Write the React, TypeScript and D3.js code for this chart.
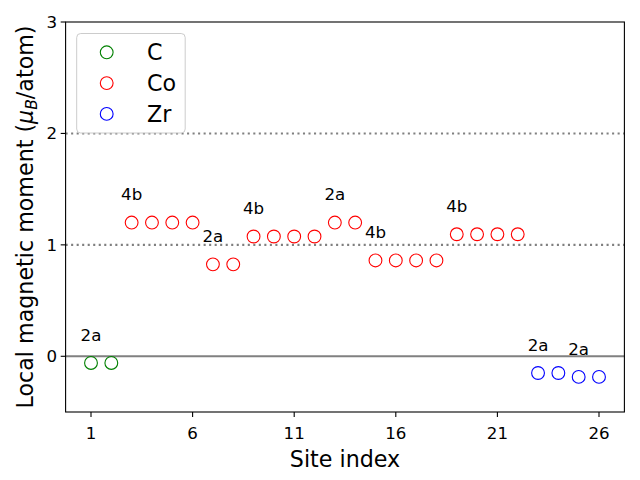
import React from "react";
import * as d3 from "d3";

const cSites = [1, 2];
const cValues = [-0.06, -0.06];
const coSites = [3, 4, 5, 6, 7, 8, 9, 10, 11, 12, 13, 14, 15, 16, 17, 18, 19, 20, 21, 22];
const coValues = [1.2, 1.2, 1.2, 1.2, 0.825, 0.825, 1.075, 1.075, 1.075, 1.075, 1.2, 1.2, 0.86, 0.86, 0.86, 0.86, 1.095, 1.095, 1.095, 1.095];
const zrSites = [23, 24, 25, 26];
const zrValues = [-0.15, -0.15, -0.185, -0.185];
const labelSites = [1, 3, 7, 9, 13, 15, 19, 23, 25];
const labelValues = [-0.06, 1.2, 0.825, 1.075, 1.2, 0.86, 1.095, -0.15, -0.185];
const labelTexts = ["2a", "4b", "2a", "4b", "2a", "4b", "4b", "2a", "2a"];
const xTicks = [1, 6, 11, 16, 21, 26];
const yTicks = [0, 1, 2, 3];
const seriesNames = ["C", "Co", "Zr"];
const seriesColors = ["green", "red", "blue"];

const W = 640, H = 480;
const L = 65.6, R = 624.4, T = 22, B = 412;
const font = "DejaVu Sans, sans-serif";

export default function App() {
  const x = d3.scaleLinear().domain([-0.25, 27.25]).range([L, R]);
  const y = d3.scaleLinear().domain([-0.5, 3]).range([B, T]);
  const series = [
    { sites: cSites, values: cValues },
    { sites: coSites, values: coValues },
    { sites: zrSites, values: zrValues },
  ];
  return (
    <svg width={W} height={H} style={{ position: "absolute", left: 0, top: 0, background: "white" }} fontFamily={font}>
      <rect x={0} y={0} width={W} height={H} fill="white" />
      {/* reference lines */}
      <line x1={L} x2={R} y1={y(0)} y2={y(0)} stroke="gray" strokeWidth={2} />
      {[1, 2].map((v) => (
        <line key={v} x1={L} x2={R} y1={y(v)} y2={y(v)} stroke="gray" strokeWidth={2.08} strokeDasharray="2.08,3.44" />
      ))}
      {/* points */}
      {series.map((s, si) =>
        s.sites.map((site, i) => (
          <circle key={si + "-" + i} cx={x(site)} cy={y(s.values[i])} r={6.4} fill="none" stroke={seriesColors[si]} strokeWidth={1.1} />
        ))
      )}
      {/* annotations */}
      {labelSites.map((site, i) => (
        <text key={"l" + i} x={x(site)} y={y(labelValues[i] + 0.2)} textAnchor="middle" fontSize={16.67} fill="black">
          {labelTexts[i]}
        </text>
      ))}
      {/* frame */}
      <rect x={L} y={T} width={R - L} height={B - T} fill="none" stroke="black" strokeWidth={1.1} />
      {/* x ticks */}
      {xTicks.map((t) => (
        <g key={"x" + t}>
          <line x1={x(t)} x2={x(t)} y1={B} y2={B + 4.9} stroke="black" strokeWidth={1.1} />
          <text x={x(t)} y={B + 26.5} textAnchor="middle" fontSize={16.67}>{t}</text>
        </g>
      ))}
      {yTicks.map((t) => (
        <g key={"y" + t}>
          <line x1={L} x2={L - 4.9} y1={y(t)} y2={y(t)} stroke="black" strokeWidth={1.1} />
          <text x={L - 8.5} y={y(t)} dy="0.36em" textAnchor="end" fontSize={16.67}>{t}</text>
        </g>
      ))}
      <text x={(L + R) / 2} y={467} textAnchor="middle" fontSize={22.2}>Site index</text>
      <text transform={`translate(33, ${(T + B) / 2}) rotate(-90)`} textAnchor="middle" fontSize={22.2}>
        Local magnetic moment (<tspan fontStyle="italic">μ</tspan>
        <tspan fontStyle="italic" fontSize={15.5} dy={4}>B</tspan>
        <tspan dy={-4}>/atom)</tspan>
      </text>
      {/* legend */}
      <rect x={76.7} y={33.5} width={108.5} height={99.5} rx={4} fill="white" fillOpacity={0.8} stroke="#cccccc" strokeWidth={1} />
      {seriesNames.map((n, i) => (
        <g key={n}>
          <circle cx={106.7} cy={52.3 + i * 30.8} r={6.4} fill="none" stroke={seriesColors[i]} strokeWidth={1.1} />
          <text x={147} y={52.3 + i * 30.8} dy="0.36em" fontSize={22.2}>{n}</text>
        </g>
      ))}
    </svg>
  );
}
